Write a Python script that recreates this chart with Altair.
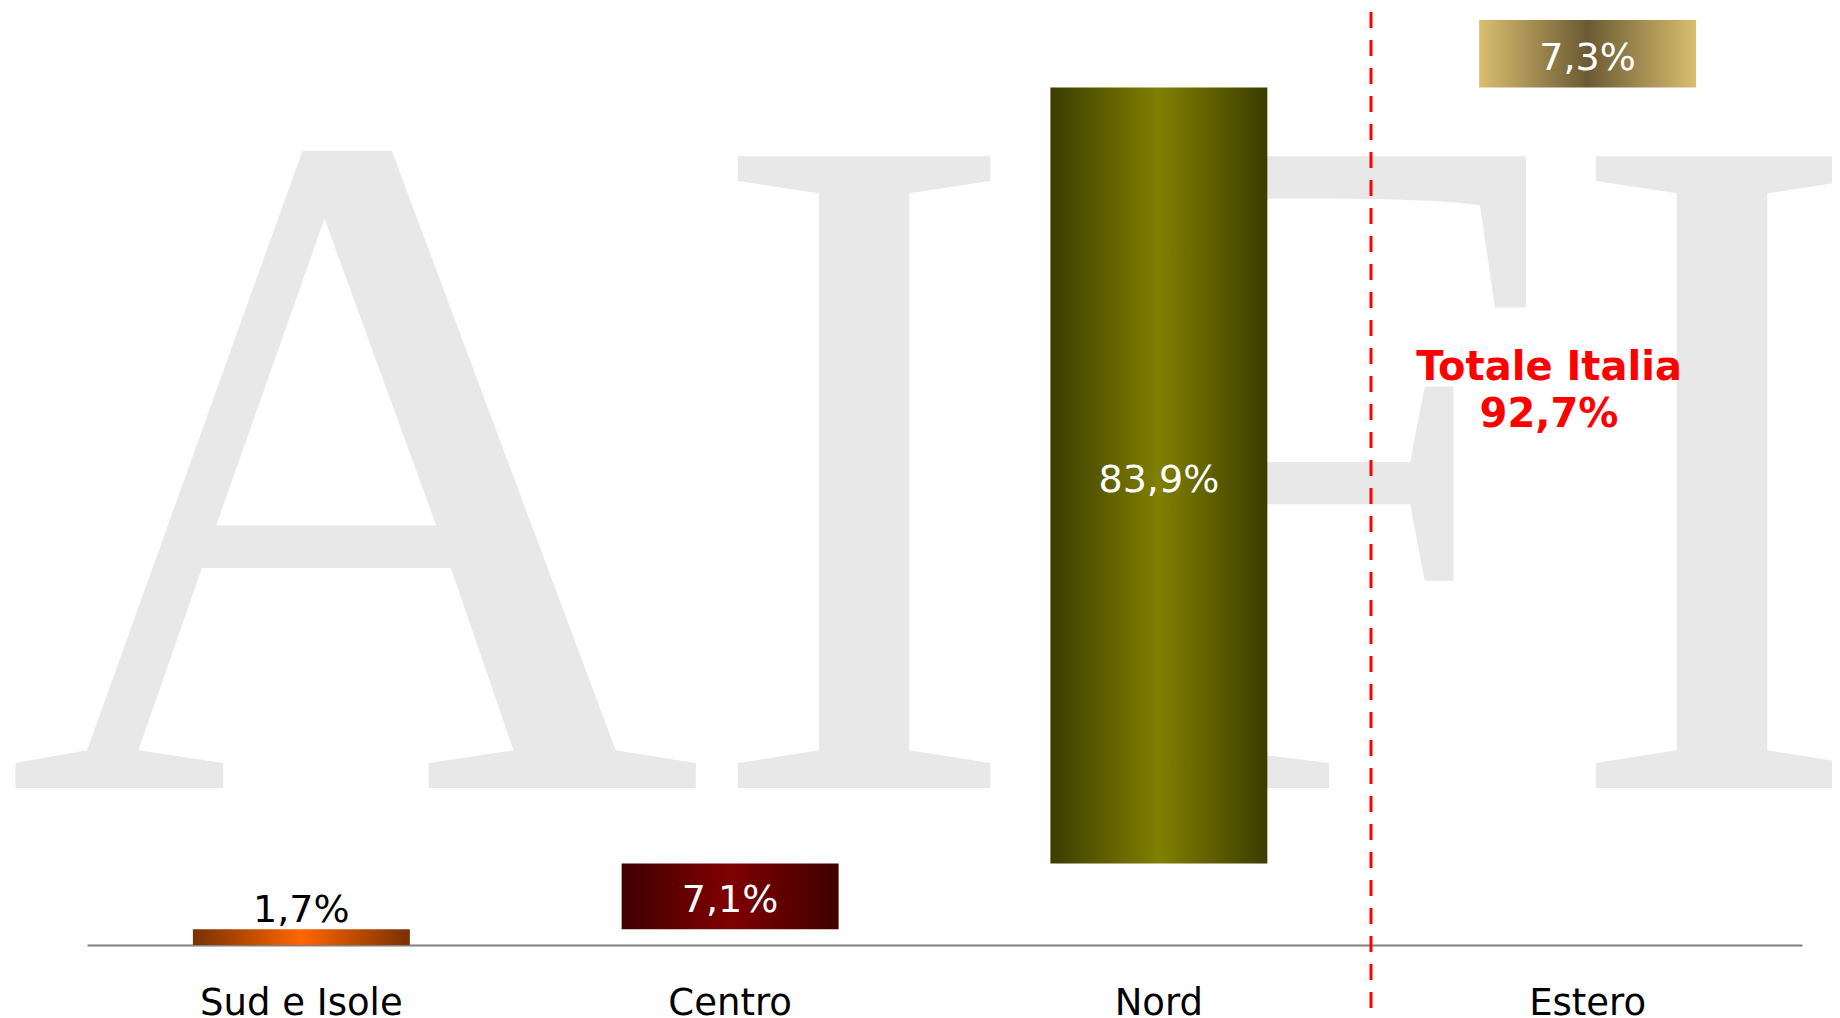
import altair as alt
import pandas as pd

categories = ["Sud e Isole", "Centro", "Nord", "Estero"]
values = [1.7, 7.1, 83.9, 7.3]
value_labels = ["1,7%", "7,1%", "83,9%", "7,3%"]
total_label = ["Totale Italia", "92,7%"]
watermark = ["AIFI"]

ends = []
acc = 0.0
for v in values:
    acc += v
    ends.append(round(acc, 2))
starts = [0.0] + ends[:-1]

df = pd.DataFrame({"cat": categories, "start": starts, "end": ends,
                   "label": value_labels, "val": values})

gradients = {
    "Sud e Isole": ("#7a3000", "#ff6600"),
    "Centro": ("#400000", "#800000"),
    "Nord": ("#3c3c00", "#808000"),
    "Estero": ("#d9be6f", "#6b5a34"),
}

xscale = alt.Scale(domain=categories, paddingInner=0.494, paddingOuter=0.247)
x_enc = alt.X("cat:N", sort=categories, scale=xscale,
              axis=alt.Axis(title=None, labelAngle=0, labelFontSize=37,
                            labelFont="DejaVu Sans", labelColor="black",
                            labelLimit=0,
                            ticks=False, domainColor="#808080", domainWidth=2,
                            labelPadding=40, grid=False))
yscale = alt.Scale(domain=[0, 100], nice=False, zero=True)

layers = []

# watermark
wm = alt.Chart(pd.DataFrame({"t": watermark})).mark_text(
    font="Liberation Serif", fontSize=965, color="#e8e8e8",
    align="left", baseline="alphabetic"
).encode(text="t:N", x=alt.value(-81), y=alt.value(768))
layers.append(wm)

for cat in categories:
    edge, mid = gradients[cat]
    grad = alt.Gradient(
        gradient="linear",
        stops=[alt.GradientStop(color=edge, offset=0),
               alt.GradientStop(color=mid, offset=0.5),
               alt.GradientStop(color=edge, offset=1)],
        x1=0, x2=1, y1=0, y2=0)
    b = alt.Chart(df).transform_filter(alt.datum.cat == cat).mark_bar(
        color=grad
    ).encode(x=x_enc, y=alt.Y("start:Q", scale=yscale, axis=None), y2="end:Q")
    layers.append(b)

inside = alt.Chart(df).transform_filter(alt.datum.val >= 5).transform_calculate(
    mid="(datum.start + datum.end) / 2"
).mark_text(font="DejaVu Sans", fontSize=38, color="white", baseline="middle", dy=5
).encode(x=x_enc, y=alt.Y("mid:Q", scale=yscale, axis=None), text="label:N")
layers.append(inside)

outside = alt.Chart(df).transform_filter(alt.datum.val < 5).mark_text(
    font="DejaVu Sans", fontSize=38, color="black", baseline="alphabetic", dy=-7
).encode(x=x_enc, y=alt.Y("end:Q", scale=yscale, axis=None), text="label:N")
layers.append(outside)

rule = alt.Chart(pd.DataFrame({"a": [0]})).mark_rule(
    color="#ff0000", strokeWidth=3, strokeDash=[16, 12]
).encode(x=alt.value(1284), y=alt.value(-8), y2=alt.value(1020))
layers.append(rule)

tot = alt.Chart(pd.DataFrame({"a": [0]})).mark_text(
    text=total_label, font="DejaVu Sans", fontWeight="bold", fontSize=40,
    color="#ff0000", lineHeight=47, align="center", baseline="middle"
).encode(x=alt.value(1462), y=alt.value(348))
layers.append(tot)

chart = alt.layer(*layers).properties(
    width=1715, height=925,
    padding={"left": 79, "top": 12, "right": 30, "bottom": 73},
    autosize=alt.AutoSizeParams(type="none"),
    background="white",
).configure_view(stroke=None)

chart.save("out.html", embed_options={"renderer": "svg", "actions": False})
